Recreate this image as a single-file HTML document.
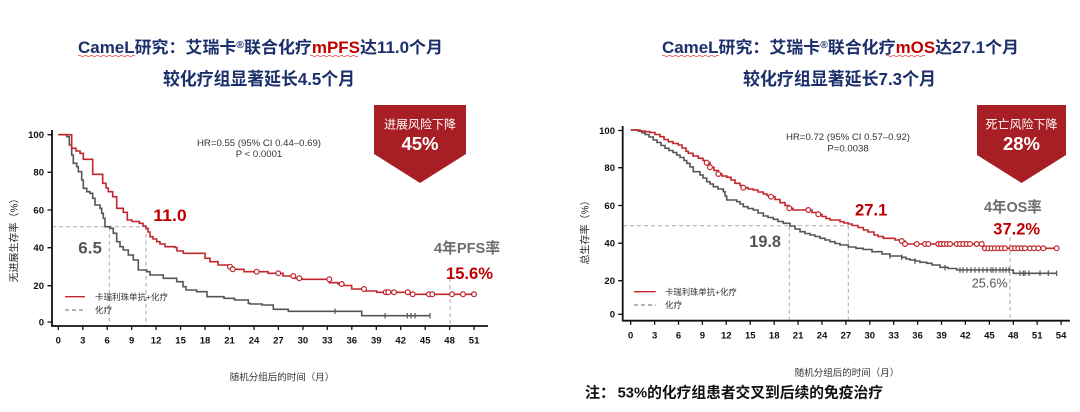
<!DOCTYPE html>
<html>
<head>
<meta charset="utf-8">
<style>
html,body{margin:0;padding:0;background:#fff;}
svg{display:block;}
text{font-family:"Liberation Sans","Noto Sans CJK SC",sans-serif;}
</style>
</head>
<body>
<svg width="1080" height="412" viewBox="0 0 1080 412" xmlns="http://www.w3.org/2000/svg">
<rect width="1080" height="412" fill="#fff"/>

<!-- ===== TITLES ===== -->
<text x="78" y="53" font-size="16.5" font-weight="bold" fill="#1b2f6b" textLength="365" lengthAdjust="spacingAndGlyphs">CameL研究：艾瑞卡<tspan font-size="10" dy="-5">®</tspan><tspan dy="5">联合化疗</tspan><tspan fill="#c00000">mPFS</tspan>达11.0个月</text>
<text x="163" y="85" font-size="17.5" font-weight="bold" fill="#1b2f6b" textLength="192" lengthAdjust="spacingAndGlyphs">较化疗组显著延长4.5个月</text>
<path d="M78,56 q1.5,-1.5 3,0 t3,0 t3,0 t3,0 t3,0 t3,0 t3,0 t3,0 t3,0 t3,0 t3,0 t3,0 t3,0 t3,0 t3,0 t3,0 t3,0 t3,0 t3,0" fill="none" stroke="#e04040" stroke-width="0.8"/>
<path d="M310,56 q1.5,-1.5 3,0 t3,0 t3,0 t3,0 t3,0 t3,0 t3,0 t3,0 t3,0 t3,0 t3,0 t3,0 t3,0 t3,0 t3,0 t3,0" fill="none" stroke="#e04040" stroke-width="0.8"/>

<text x="662" y="53" font-size="16.5" font-weight="bold" fill="#1b2f6b" textLength="357" lengthAdjust="spacingAndGlyphs">CameL研究：艾瑞卡<tspan font-size="10" dy="-5">®</tspan><tspan dy="5">联合化疗</tspan><tspan fill="#c00000">mOS</tspan>达27.1个月</text>
<text x="743" y="85" font-size="17.5" font-weight="bold" fill="#1b2f6b" textLength="193" lengthAdjust="spacingAndGlyphs">较化疗组显著延长7.3个月</text>
<path d="M662,56 q1.5,-1.5 3,0 t3,0 t3,0 t3,0 t3,0 t3,0 t3,0 t3,0 t3,0 t3,0 t3,0 t3,0 t3,0 t3,0 t3,0 t3,0 t3,0 t3,0 t3,0" fill="none" stroke="#e04040" stroke-width="0.8"/>
<path d="M886,56 q1.5,-1.5 3,0 t3,0 t3,0 t3,0 t3,0 t3,0 t3,0 t3,0 t3,0 t3,0 t3,0 t3,0 t3,0" fill="none" stroke="#e04040" stroke-width="0.8"/>

<!-- ===== BADGES ===== -->
<polygon points="374,105 466,105 466,154 420,183 374,154" fill="#a71f25"/>
<text x="420" y="128.6" font-size="12" fill="#fff" text-anchor="middle">进展风险下降</text>
<text x="420" y="150" font-size="18.5" font-weight="bold" fill="#fff" text-anchor="middle">45%</text>

<polygon points="977,105 1066,105 1066,155 1021.5,183 977,155" fill="#a71f25"/>
<text x="1021.5" y="128.6" font-size="12" fill="#fff" text-anchor="middle">死亡风险下降</text>
<text x="1021.5" y="150" font-size="18.5" font-weight="bold" fill="#fff" text-anchor="middle">28%</text>

<!-- ===== LEFT CHART ===== -->
<text x="259" y="146" font-size="9.6" fill="#333" text-anchor="middle">HR=0.55 (95% CI 0.44–0.69)</text>
<text x="259" y="157.2" font-size="9.6" fill="#333" text-anchor="middle">P &lt; 0.0001</text>

<!-- median dashed lines -->
<g stroke="#aaa" stroke-width="1" stroke-dasharray="4,3" fill="none">
<path d="M52,226.7 H146"/>
<path d="M109.3,226.7 V326"/>
<path d="M146,226.7 V326"/>
<path d="M450,278 V326"/>
</g>

<!-- axes -->
<g stroke="#111" stroke-width="1.8" fill="none">
<path d="M52,130 V326 H488"/>
</g>
<g stroke="#111" stroke-width="1.3">
<path d="M47.5,134.7H52 M47.5,172.3H52 M47.5,210H52 M47.5,247.7H52 M47.5,285.7H52 M47.5,322H52"/>
<path d="M58.3,326v4 M82.8,326v4 M107.2,326v4 M131.7,326v4 M156.1,326v4 M180.6,326v4 M205,326v4 M229.5,326v4 M254,326v4 M278.4,326v4 M302.9,326v4 M327.3,326v4 M351.8,326v4 M376.3,326v4 M400.7,326v4 M425.2,326v4 M449.6,326v4 M474.1,326v4"/>
</g>
<g font-size="9.5" font-weight="bold" fill="#111" text-anchor="end">
<text x="44" y="138">100</text>
<text x="44" y="175.6">80</text>
<text x="44" y="213.3">60</text>
<text x="44" y="251">40</text>
<text x="44" y="289">20</text>
<text x="44" y="325.3">0</text>
</g>
<g font-size="9.5" font-weight="bold" fill="#111" text-anchor="middle">
<text x="58.3" y="343.4">0</text><text x="82.8" y="343.4">3</text><text x="107.2" y="343.4">6</text><text x="131.7" y="343.4">9</text><text x="156.1" y="343.4">12</text><text x="180.6" y="343.4">15</text><text x="205" y="343.4">18</text><text x="229.5" y="343.4">21</text><text x="254" y="343.4">24</text><text x="278.4" y="343.4">27</text><text x="302.9" y="343.4">30</text><text x="327.3" y="343.4">33</text><text x="351.8" y="343.4">36</text><text x="376.3" y="343.4">39</text><text x="400.7" y="343.4">42</text><text x="425.2" y="343.4">45</text><text x="449.6" y="343.4">48</text><text x="474.1" y="343.4">51</text>
</g>

<!-- gray curve left -->
<path d="M58.3,134.7 H66.7 V136.7 H69.3 V145 H71.7 V155 H73.3 V163.3 H76.7 V166.7 H78.3 V171.7 H81.7 V180 H83.3 V188.3 H86.7 V191.7 H90 V193.3 H92.7 V198.3 H95 V205 H100 V208.3 H101.7 V213.3 H103.3 V218.3 H105 V226.7 H110 V228.3 H113.3 V233.3 H116.7 V241.7 H120 V246.7 H123.3 V250 H128.3 V255 H133.3 V260 H138.3 V270 H146.7 V271.7 H150 V275 H163.3 V278.3 H176.7 V281.7 H183 V286.7 H186 V290 H196.6 V291.7 H207 V296.7 H224 V298.3 H234.5 V300 H248.3 V303.3 H250 V304 H262 V305 H273.3 V309.3 H288.3 V311.3 H361.7 V315.7 H430" fill="none" stroke="#555" stroke-width="1.6"/>
<g stroke="#555" stroke-width="1.2">
<path d="M335,308.5v5.5 M385,313v5.5 M407.3,313v5.5 M411,313v5.5 M415,313v5.5 M430,313v5.5"/>
</g>

<!-- red curve left -->
<path d="M58.3,134.7 H71.7 V148.3 H76 V151 H80 V153.3 H83.3 V159.3 H92.7 V174.3 H102.7 V183.3 H106 V188 H108.3 V191.7 H112.7 V196.7 H116.7 V208.3 H123.3 V212.3 H127.3 V220 H132 V221.5 H139.3 V223.3 H143 V226 H146 V228.3 H148 V232 H150 V236.7 H153 V239 H156.7 V241.7 H160 V244 H165 V246.7 H175 V247.5 H177 V251 H183.3 V253.3 H205 V258.3 H210 V261.7 H218 V265 H230 V266.7 H232.7 V269.3 H244 V271.7 H268 V273.3 H283 V276 H293.3 V278.3 H301.7 V279.3 H329.3 V282.7 H338 V284 H341.7 V285.5 H351.7 V289 H364.3 V291 H376.7 V292.3 H410 V294.3 H474" fill="none" stroke="#c0262c" stroke-width="1.6"/>
<g fill="#fff" stroke="#c0262c" stroke-width="1.2">
<circle cx="230" cy="266.7" r="2.4"/><circle cx="232.7" cy="269.3" r="2.4"/><circle cx="256.7" cy="271.7" r="2.4"/><circle cx="278.3" cy="273.3" r="2.4"/><circle cx="293.3" cy="276" r="2.4"/><circle cx="299.3" cy="278.3" r="2.4"/><circle cx="329.3" cy="279.3" r="2.4"/><circle cx="341.7" cy="284" r="2.4"/><circle cx="364" cy="289" r="2.4"/><circle cx="385.7" cy="292.3" r="2.4"/><circle cx="388.3" cy="292.3" r="2.4"/><circle cx="394" cy="292.3" r="2.4"/><circle cx="407.7" cy="292.3" r="2.4"/><circle cx="412.7" cy="294.3" r="2.4"/><circle cx="429" cy="294.3" r="2.4"/><circle cx="432.3" cy="294.3" r="2.4"/><circle cx="452" cy="294.3" r="2.4"/><circle cx="463" cy="294.3" r="2.4"/><circle cx="474" cy="294.3" r="2.4"/>
</g>

<!-- legend left -->
<line x1="65" y1="296.7" x2="85" y2="296.7" stroke="#c0262c" stroke-width="1.3"/>
<text x="95" y="299.8" font-size="8.6" fill="#333" textLength="73" lengthAdjust="spacingAndGlyphs">卡瑞利珠单抗+化疗</text>
<line x1="65" y1="310" x2="85" y2="310" stroke="#888" stroke-width="1.3" stroke-dasharray="4,3"/>
<text x="95" y="313.1" font-size="8.6" fill="#333">化疗</text>

<!-- labels left -->
<text x="153.3" y="221.2" font-size="17" font-weight="bold" fill="#c00000" textLength="33.4" lengthAdjust="spacingAndGlyphs">11.0</text>
<text x="78.3" y="253.6" font-size="17" font-weight="bold" fill="#555">6.5</text>
<text x="434" y="252.8" font-size="15" font-weight="bold" fill="#6d6d6d" textLength="66" lengthAdjust="spacingAndGlyphs">4年PFS率</text>
<text x="446" y="278.8" font-size="17" font-weight="bold" fill="#c00000" textLength="47" lengthAdjust="spacingAndGlyphs">15.6%</text>

<text transform="translate(17.5,238) rotate(-90)" font-size="10" fill="#222" text-anchor="middle">无进展生存率（%）</text>
<text x="282" y="380.6" font-size="9.5" fill="#333" text-anchor="middle">随机分组后的时间（月）</text>

<!-- ===== RIGHT CHART ===== -->
<text x="848" y="140" font-size="9.6" fill="#333" text-anchor="middle">HR=0.72 (95% CI 0.57–0.92)</text>
<text x="848" y="151.6" font-size="9.6" fill="#333" text-anchor="middle">P=0.0038</text>

<g stroke="#aaa" stroke-width="1" stroke-dasharray="4,3" fill="none">
<path d="M623,225.7 H848.3"/>
<path d="M789.3,225.7 V320.7"/>
<path d="M848.3,225.7 V320.7"/>
<path d="M1010,237 V320.7"/>
</g>

<g stroke="#111" stroke-width="1.8" fill="none">
<path d="M622.7,126 V320.7 H1070"/>
</g>
<g stroke="#111" stroke-width="1.3">
<path d="M618.2,130.5H622.7 M618.2,167.7H622.7 M618.2,205.5H622.7 M618.2,243.2H622.7 M618.2,280.7H622.7 M618.2,314.3H622.7"/>
<path d="M630.7,320.7v4 M654.6,320.7v4 M678.5,320.7v4 M702.4,320.7v4 M726.3,320.7v4 M750.3,320.7v4 M774.2,320.7v4 M798.1,320.7v4 M822,320.7v4 M845.9,320.7v4 M869.8,320.7v4 M893.7,320.7v4 M917.6,320.7v4 M941.5,320.7v4 M965.4,320.7v4 M989.4,320.7v4 M1013.3,320.7v4 M1037.2,320.7v4 M1061.1,320.7v4"/>
</g>
<g font-size="9.5" font-weight="bold" fill="#111" text-anchor="end">
<text x="615" y="133.8">100</text>
<text x="615" y="171">80</text>
<text x="615" y="208.8">60</text>
<text x="615" y="246.5">40</text>
<text x="615" y="284">20</text>
<text x="615" y="317.6">0</text>
</g>
<g font-size="9.5" font-weight="bold" fill="#111" text-anchor="middle">
<text x="630.7" y="338.4">0</text><text x="654.6" y="338.4">3</text><text x="678.5" y="338.4">6</text><text x="702.4" y="338.4">9</text><text x="726.3" y="338.4">12</text><text x="750.3" y="338.4">15</text><text x="774.2" y="338.4">18</text><text x="798.1" y="338.4">21</text><text x="822" y="338.4">24</text><text x="845.9" y="338.4">27</text><text x="869.8" y="338.4">30</text><text x="893.7" y="338.4">33</text><text x="917.6" y="338.4">36</text><text x="941.5" y="338.4">39</text><text x="965.4" y="338.4">42</text><text x="989.4" y="338.4">45</text><text x="1013.3" y="338.4">48</text><text x="1037.2" y="338.4">51</text><text x="1061.1" y="338.4">54</text>
</g>

<!-- gray curve right -->
<path d="M630.7,130 H638 V131 H641.7 V132.7 H645 V134.5 H649 V137 H653.3 V140 H657 V142.5 H661 V145.5 H665 V148.3 H669 V150.5 H673 V152.5 H676.7 V155 H680 V157.5 H684 V160.5 H686.7 V163.3 H690 V167 H693.3 V171.7 H700 V175 H703 V178 H706.7 V181.7 H710 V184 H713.3 V186.7 H718 V189 H723.3 V191.7 H725 V196 H726.7 V200 H736.7 V201.7 H740 V204 H743.3 V206.7 H748 V208.5 H753.3 V210 H758 V213 H763.3 V216 H768 V217.5 H773.3 V219.3 H778 V221.5 H783.3 V223.3 H790 V226 H795 V229 H800 V231.7 H805 V233.5 H810 V235 H815 V236.5 H820 V238.3 H825 V240 H830 V241.7 H835 V243.5 H840 V245 H848.3 V247 H856 V248.3 H863.3 V249.5 H872 V251.7 H882 V254 H890 V256 H901.7 V257.3 H906 V259 H910 V260 H915 V261 H920 V262.3 H926.7 V263.3 H932 V265 H940 V267.3 H948 V268.5 H956.7 V270 H1013.3 V273.3 H1057" fill="none" stroke="#555" stroke-width="1.6"/>
<g stroke="#555" stroke-width="1.2">
<path d="M890,253.3v5.5 M901.7,254.5v5.5 M915,258.3v5.5 M945,265v5.5 M960,267.3v5.5 M963,267.3v5.5 M967,267.3v5.5 M971,267.3v5.5 M975,267.3v5.5 M979,267.3v5.5 M983,267.3v5.5 M987,267.3v5.5 M991,267.3v5.5 M993,267.3v5.5 M996,267.3v5.5 M1000,267.3v5.5 M1003,267.3v5.5 M1006,267.3v5.5 M1009,267.3v5.5 M1020,270.5v5.5 M1023.3,270.5v5.5 M1025,270.5v5.5 M1029,270.5v5.5 M1040,270.5v5.5 M1048.3,270.5v5.5 M1056.7,270.5v5.5"/>
</g>

<!-- red curve right -->
<path d="M630.7,130 H640 V131 H645 V131.7 H650 V132.5 H655 V134.5 H660 V136.7 H664 V139.5 H668.3 V141.7 H673 V143.5 H678.3 V145 H682 V148 H686 V151.3 H688.3 V153.3 H693 V156 H698.3 V158.3 H703 V160.5 H706.7 V162.7 H710 V167.3 H714 V170.5 H718.3 V174 H722 V176 H726.7 V177.3 H731 V180 H735 V183.3 H740 V185.5 H743.3 V187.7 H748 V189 H753.3 V190 H758 V192 H763.3 V194 H767 V195.5 H771 V196.7 H775 V199.5 H780 V202.7 H785 V205.5 H789.3 V208.3 H793 V210 H812 V212.5 H818.3 V214.3 H822 V216.5 H826 V218.5 H830 V220 H840 V221.7 H844 V223 H848.3 V224 H852 V225.5 H858 V227.5 H863.3 V230 H868 V232 H874 V235 H878 V236.5 H883.3 V238.3 H895 V240 H901.7 V241 H905 V244 H983 V248.3 H1057" fill="none" stroke="#c0262c" stroke-width="1.6"/>
<g fill="#fff" stroke="#c0262c" stroke-width="1.2">
<circle cx="706.7" cy="162.7" r="2.4"/><circle cx="710" cy="167.3" r="2.4"/><circle cx="718.3" cy="174" r="2.4"/><circle cx="743.3" cy="187.7" r="2.4"/><circle cx="771" cy="196.7" r="2.4"/><circle cx="789.3" cy="208.3" r="2.4"/><circle cx="808.3" cy="210" r="2.4"/><circle cx="818.3" cy="214.3" r="2.4"/>
<circle cx="901.7" cy="241" r="2.4"/><circle cx="905" cy="244" r="2.4"/><circle cx="916.7" cy="244" r="2.4"/><circle cx="925" cy="244" r="2.4"/><circle cx="928.3" cy="244" r="2.4"/><circle cx="938.3" cy="244" r="2.4"/><circle cx="941" cy="244" r="2.4"/><circle cx="944" cy="244" r="2.4"/><circle cx="947" cy="244" r="2.4"/><circle cx="950" cy="244" r="2.4"/><circle cx="956.7" cy="244" r="2.4"/><circle cx="960" cy="244" r="2.4"/><circle cx="963.3" cy="244" r="2.4"/><circle cx="966.7" cy="244" r="2.4"/><circle cx="970" cy="244" r="2.4"/><circle cx="976.7" cy="244" r="2.4"/><circle cx="981.7" cy="244" r="2.4"/>
<circle cx="985" cy="248.3" r="2.4"/><circle cx="988.3" cy="248.3" r="2.4"/><circle cx="991.7" cy="248.3" r="2.4"/><circle cx="995" cy="248.3" r="2.4"/><circle cx="998.3" cy="248.3" r="2.4"/><circle cx="1001.7" cy="248.3" r="2.4"/><circle cx="1005" cy="248.3" r="2.4"/><circle cx="1011.7" cy="248.3" r="2.4"/><circle cx="1015" cy="248.3" r="2.4"/><circle cx="1018.3" cy="248.3" r="2.4"/><circle cx="1021.7" cy="248.3" r="2.4"/><circle cx="1025" cy="248.3" r="2.4"/><circle cx="1030" cy="248.3" r="2.4"/><circle cx="1034" cy="248.3" r="2.4"/><circle cx="1038.3" cy="248.3" r="2.4"/><circle cx="1043.3" cy="248.3" r="2.4"/><circle cx="1056.7" cy="248.3" r="2.4"/>
</g>

<!-- legend right -->
<line x1="634" y1="291.7" x2="655.7" y2="291.7" stroke="#c0262c" stroke-width="1.3"/>
<text x="665" y="294.8" font-size="8.6" fill="#333" textLength="71.7" lengthAdjust="spacingAndGlyphs">卡瑞利珠单抗+化疗</text>
<line x1="634" y1="305" x2="655.7" y2="305" stroke="#888" stroke-width="1.3" stroke-dasharray="4,3"/>
<text x="665" y="308.1" font-size="8.6" fill="#333">化疗</text>

<!-- labels right -->
<text x="855" y="215.4" font-size="17" font-weight="bold" fill="#c00000" textLength="32.3" lengthAdjust="spacingAndGlyphs">27.1</text>
<text x="749.3" y="246.8" font-size="17" font-weight="bold" fill="#555" textLength="31.7" lengthAdjust="spacingAndGlyphs">19.8</text>
<text x="984" y="212" font-size="15" font-weight="bold" fill="#6d6d6d" textLength="57.7" lengthAdjust="spacingAndGlyphs">4年OS率</text>
<text x="993.3" y="234.4" font-size="17" font-weight="bold" fill="#c00000" textLength="46.7" lengthAdjust="spacingAndGlyphs">37.2%</text>
<text x="971.7" y="287.4" font-size="13" fill="#555" textLength="36" lengthAdjust="spacingAndGlyphs">25.6%</text>

<text transform="translate(588.5,230) rotate(-90)" font-size="10" fill="#222" text-anchor="middle">总生存率（%）</text>
<text x="847" y="376" font-size="9.5" fill="#333" text-anchor="middle">随机分组后的时间（月）</text>

<!-- note -->
<text x="585" y="397.5" font-size="15" font-weight="bold" fill="#111">注：</text>
<text x="617.6" y="397.5" font-size="15" font-weight="bold" fill="#111" textLength="265.4" lengthAdjust="spacingAndGlyphs">53%的化疗组患者交叉到后续的免疫治疗</text>
</svg>
</body>
</html>
